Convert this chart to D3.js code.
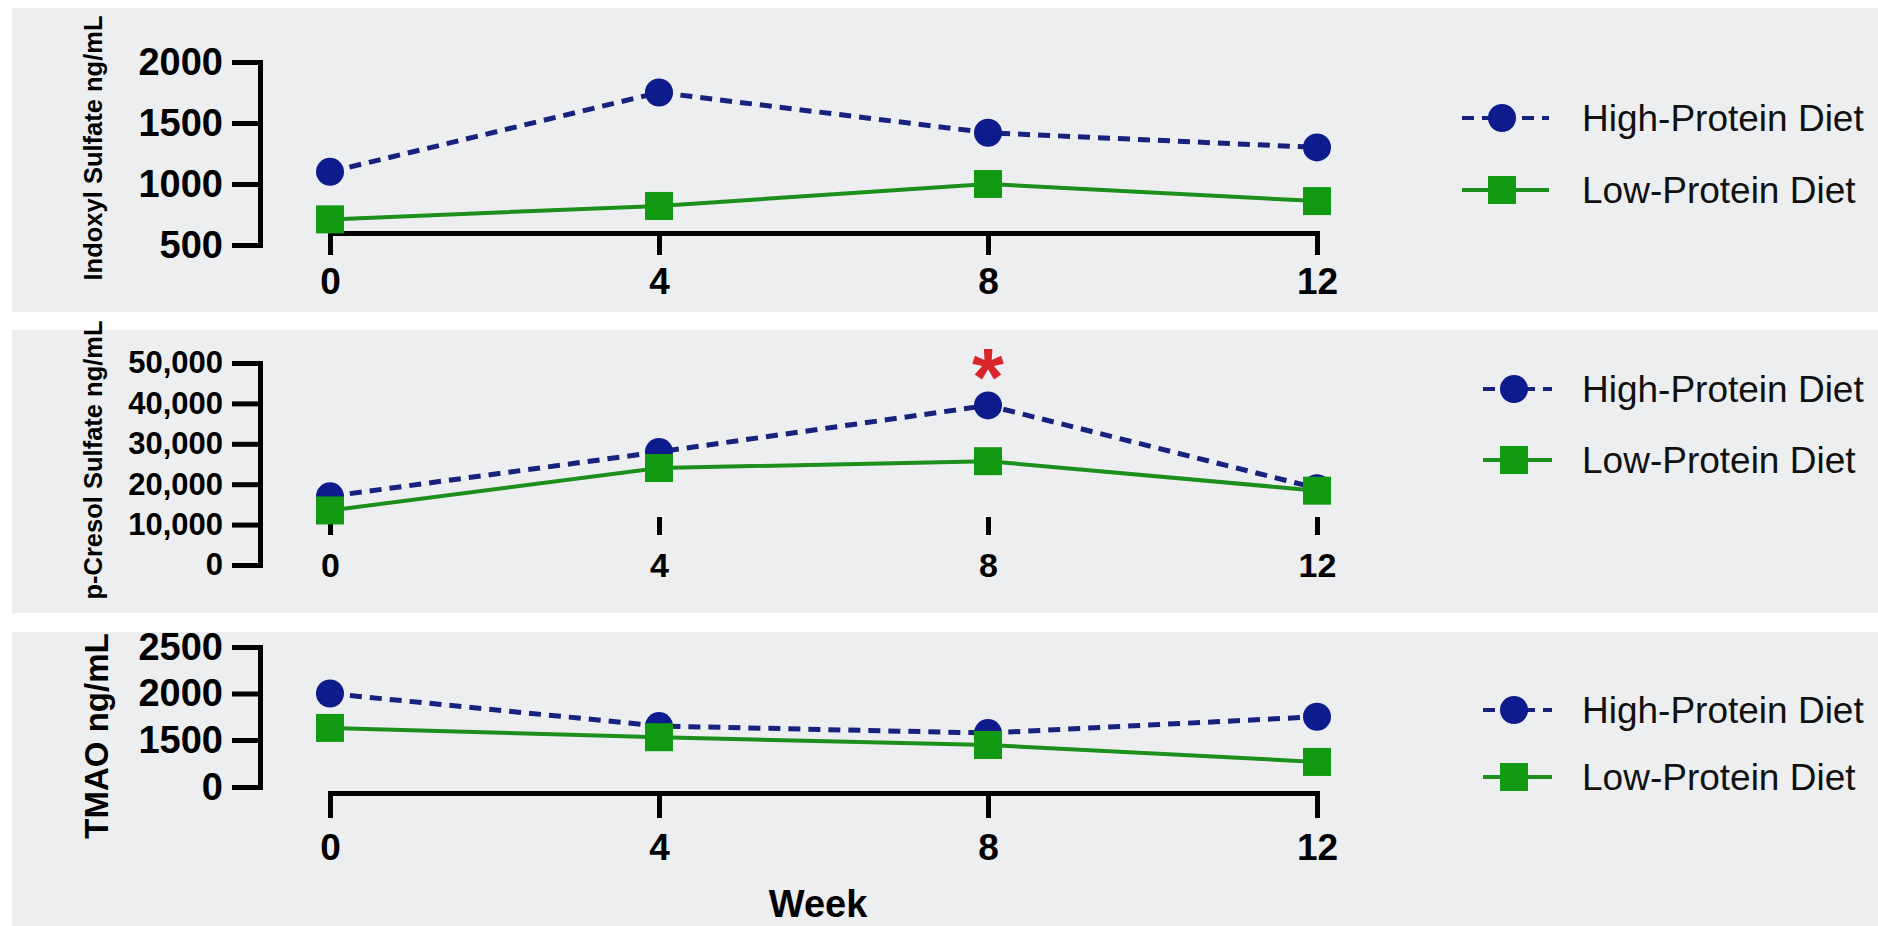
<!DOCTYPE html>
<html>
<head>
<meta charset="utf-8">
<script src="https://cdn.jsdelivr.net/npm/d3@7"></script>
<style>
  html, body { margin: 0; padding: 0; background: #ffffff; }
  svg { display: block; font-family: "Liberation Sans", Arial, Helvetica, sans-serif; }
</style>
</head>
<body>
<svg id="chart" width="1878" height="926"></svg>
<script>
// ---- data ----
const weeks = [0, 4, 8, 12];
const seriesNames = ["High-Protein Diet", "Low-Protein Diet"];

const indoxylHigh = [1100, 1750, 1420, 1300];
const indoxylLow  = [710, 820, 1000, 860];
const indoxylTicks = [500, 1000, 1500, 2000];

const cresolHigh = [17000, 28000, 39500, 19000];
const cresolLow  = [13500, 24000, 25700, 18400];
const cresolTicks = [0, 10000, 20000, 30000, 40000, 50000];

const tmaoHigh = [2000, 1650, 1575, 1750];
const tmaoLow  = [1630, 1530, 1340, 800];
const tmaoTicks = [0, 1500, 2000, 2500];

const panelTitles = ["Indoxyl Sulfate ng/mL", "p-Cresol Sulfate ng/mL", "TMAO ng/mL"];
const xTitle = "Week";
// significance marker: panel index and week
const sigMarks = [{ panel: 1, week: 8, label: "*" }];

// ---- styling ----
const blue = "#0d1b8c", blueLine = "#17227e";
const green = "#119a12", greenLine = "#1c8f1c";
const panelBg = "#edeef0";

const svg = d3.select("#chart");

// x scale shared by all panels
const x = d3.scaleLinear().domain([0, 12]).range([330, 1317]);

// panel layout
const panels = [
  {
    title: panelTitles[0], high: indoxylHigh, low: indoxylLow, ticks: indoxylTicks,
    bg: [8, 312],
    y: d3.scaleLinear().domain([500, 2000]).range([245, 62]),
    fmt: d3.format("d"), yFont: 38,
    xAxisY: 233, xTick: 22, xPad: 13, xFont: 37, xLine: true,
    titleX: 93, titleY: 148, titleFont: 25.5,
    legend: { cx: 1502, x1: 1462, x2: 1549, rows: [118, 190] }
  },
  {
    title: panelTitles[1], high: cresolHigh, low: cresolLow, ticks: cresolTicks,
    bg: [330, 613],
    y: d3.scaleLinear().domain([0, 50000]).range([565, 363]),
    fmt: d3.format(","), yFont: 31,
    xAxisY: 517, xTick: 18, xPad: 18, xFont: 34, xLine: false,
    titleX: 93, titleY: 460, titleFont: 25.5,
    legend: { cx: 1514, x1: 1483, x2: 1552, rows: [389, 460] }
  },
  {
    title: panelTitles[2], high: tmaoHigh, low: tmaoLow, ticks: tmaoTicks,
    bg: [632, 926],
    // the axis is broken below 1500: 0 sits one step under 1500
    y: d3.scaleLinear().domain([0, 1500, 2500]).range([787, 740, 647]),
    fmt: d3.format("d"), yFont: 38,
    xAxisY: 793, xTick: 25, xPad: 16, xFont: 37, xLine: true,
    titleX: 96, titleY: 736, titleFont: 33,
    legend: { cx: 1514, x1: 1483, x2: 1552, rows: [710, 777] }
  }
];

panels.forEach((p, i) => {
  const g = svg.append("g");

  // panel background
  g.append("rect")
    .attr("x", 12).attr("y", p.bg[0])
    .attr("width", 1878 - 12).attr("height", p.bg[1] - p.bg[0])
    .attr("fill", panelBg);

  // y axis
  const yAxis = d3.axisLeft(p.y)
    .tickValues(p.ticks)
    .tickFormat(p.fmt)
    .tickSize(28)
    .tickSizeOuter(0)
    .tickPadding(9);
  const ya = g.append("g").attr("transform", "translate(260,0)").call(yAxis);
  ya.select(".domain").attr("stroke", "#000").attr("stroke-width", 5).attr("stroke-linecap", "square");
  ya.selectAll(".tick line").attr("stroke", "#000").attr("stroke-width", 5);
  ya.selectAll(".tick text")
    .attr("fill", "#000").attr("font-size", p.yFont).attr("font-weight", "bold")
    .attr("font-family", "Liberation Sans, Arial, sans-serif");

  // x axis
  const xAxis = d3.axisBottom(x)
    .tickValues(weeks)
    .tickFormat(d3.format("d"))
    .tickSize(p.xTick)
    .tickSizeOuter(0)
    .tickPadding(p.xPad);
  const xa = g.append("g").attr("transform", `translate(0,${p.xAxisY})`).call(xAxis);
  if (p.xLine) {
    xa.select(".domain").attr("stroke", "#000").attr("stroke-width", 5).attr("stroke-linecap", "square");
  } else {
    xa.select(".domain").remove();
  }
  xa.selectAll(".tick line").attr("stroke", "#000").attr("stroke-width", 5);
  xa.selectAll(".tick text")
    .attr("fill", "#000").attr("font-size", p.xFont).attr("font-weight", "bold")
    .attr("font-family", "Liberation Sans, Arial, sans-serif");

  // y axis title
  g.append("text")
    .attr("transform", `translate(${p.titleX},${p.titleY}) rotate(-90)`)
    .attr("text-anchor", "middle")
    .attr("dominant-baseline", "central")
    .attr("font-size", p.titleFont).attr("font-weight", "bold")
    .attr("fill", "#000")
    .text(p.title);

  const line = d3.line().x((d, k) => x(weeks[k])).y(d => p.y(d));

  // high-protein series (dashed, circles)
  g.append("path").datum(p.high)
    .attr("d", line).attr("fill", "none")
    .attr("stroke", blueLine).attr("stroke-width", 5)
    .attr("stroke-dasharray", "12,8");
  g.selectAll(".hp").data(p.high).enter().append("circle")
    .attr("cx", (d, k) => x(weeks[k])).attr("cy", d => p.y(d))
    .attr("r", 14).attr("fill", blue);

  // low-protein series (solid, squares) drawn on top
  g.append("path").datum(p.low)
    .attr("d", line).attr("fill", "none")
    .attr("stroke", greenLine).attr("stroke-width", 4);
  g.selectAll(".lp").data(p.low).enter().append("rect")
    .attr("x", (d, k) => x(weeks[k]) - 14).attr("y", d => p.y(d) - 14)
    .attr("width", 28).attr("height", 28).attr("fill", green);

  // legend
  const L = p.legend;
  const lg = g.append("g");
  lg.append("line")
    .attr("x1", L.x1).attr("x2", L.x2)
    .attr("y1", L.rows[0]).attr("y2", L.rows[0])
    .attr("stroke", blueLine).attr("stroke-width", 4)
    .attr("stroke-dasharray", "12,8");
  lg.append("circle").attr("cx", L.cx).attr("cy", L.rows[0]).attr("r", 14).attr("fill", blue);
  lg.append("line")
    .attr("x1", L.x1).attr("x2", L.x2)
    .attr("y1", L.rows[1]).attr("y2", L.rows[1])
    .attr("stroke", greenLine).attr("stroke-width", 4);
  lg.append("rect").attr("x", L.cx - 14).attr("y", L.rows[1] - 14)
    .attr("width", 28).attr("height", 28).attr("fill", green);
  seriesNames.forEach((name, k) => {
    lg.append("text")
      .attr("x", 1582).attr("y", L.rows[k])
      .attr("dominant-baseline", "central")
      .attr("font-size", 37).attr("fill", "#111")
      .text(name);
  });
});

// significance markers above the high-protein point
sigMarks.forEach(m => {
  const p = panels[m.panel];
  const k = weeks.indexOf(m.week);
  svg.append("text")
    .attr("x", x(m.week))
    .attr("y", p.y(p.high[k]))
    .attr("text-anchor", "middle")
    .attr("font-size", 82).attr("font-weight", "bold")
    .attr("fill", "#d8262b")
    .text(m.label);
});

// shared x title
svg.append("text")
  .attr("x", 818).attr("y", 917)
  .attr("text-anchor", "middle")
  .attr("font-size", 38).attr("font-weight", "bold")
  .attr("fill", "#000")
  .text(xTitle);
</script>
</body>
</html>
